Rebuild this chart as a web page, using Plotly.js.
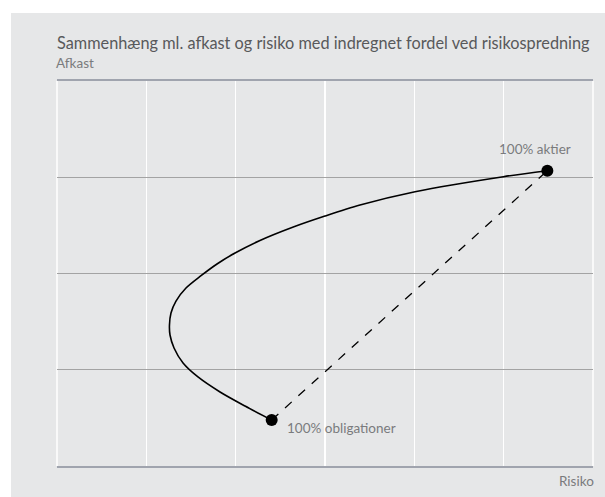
<!DOCTYPE html>
<html>
<head>
<meta charset="utf-8">
<script src="https://cdn.plot.ly/plotly-3.0.1.min.js"></script>
<style>
  html, body { margin: 0; padding: 0; background: #ffffff; width: 605px; height: 497px; overflow: hidden; }
  #chart { position: absolute; left: 11px; top: 13px; width: 594px; height: 484px; }
</style>
</head>
<body>
<div id="chart"></div>
<script>
// Frontier curve (risk, return)
const frontierRisk   = [2.403, 2.105, 1.825, 1.578, 1.411, 1.310, 1.265, 1.259, 1.276, 1.332, 1.444, 1.601, 1.791, 1.993, 2.272, 2.645, 3.000, 3.392, 4.008, 4.996, 5.489];
const frontierReturn = [0.478, 0.623, 0.769, 0.925, 1.070, 1.226, 1.361, 1.465, 1.590, 1.714, 1.849, 1.969, 2.099, 2.213, 2.343, 2.483, 2.597, 2.712, 2.850, 3.006, 3.068];
// Endpoints: 100% obligationer, 100% aktier
const endLabels = ["100% obligationer", "100% aktier"];
const endRisk   = [2.403, 5.489];
const endReturn = [0.478, 3.068];

const titleText = "Sammenhæng ml. afkast og risiko med indregnet fordel ved risikospredning";
const yLabel = "Afkast";
const xLabel = "Risiko";

const FONT = "Lato, 'Liberation Sans', Arial, sans-serif";
const LABEL_SIZE = 13.5;

const traces = [
  {
    x: endRisk, y: endReturn, type: "scatter", mode: "lines",
    line: { color: "#000000", width: 1.3, dash: "dash" },
    hoverinfo: "skip"
  },
  {
    x: frontierRisk, y: frontierReturn, type: "scatter", mode: "lines",
    line: { color: "#000000", width: 1.6, shape: "spline", smoothing: 0.8 },
    hoverinfo: "skip"
  },
  {
    x: endRisk, y: endReturn, type: "scatter", mode: "markers",
    marker: { color: "#000000", size: 12 },
    hoverinfo: "skip"
  }
];

const layout = {
  width: 594, height: 484,
  margin: { l: 46, r: 12, t: 68, b: 31 },
  paper_bgcolor: "#e6e7e8",
  plot_bgcolor: "#e6e7e8",
  showlegend: false,
  font: { family: FONT, color: "#58595b" },
  title: {
    text: titleText,
    font: { family: FONT, size: 16.3, color: "#58595b" },
    xref: "paper", x: 0, xanchor: "left",
    yref: "container", y: 0.938, yanchor: "middle"
  },
  xaxis: {
    range: [0, 6], dtick: 1, tick0: 0,
    showgrid: true, gridcolor: "#ffffff", gridwidth: 1.5,
    zeroline: false, showticklabels: false, ticks: "",
    showline: true, linecolor: "#a0a4ae", linewidth: 2, mirror: true,
    fixedrange: true
  },
  yaxis: {
    range: [0, 4], dtick: 1, tick0: 0,
    showgrid: true, gridcolor: "#a3a3a3", gridwidth: 1,
    zeroline: false, showticklabels: false, ticks: "",
    showline: false,
    fixedrange: true
  },
  shapes: [
    { type: "line", xref: "paper", yref: "paper", x0: 0, x1: 0, y0: 0, y1: 1,
      line: { color: "#ffffff", width: 1.5 }, layer: "below" },
    { type: "line", xref: "paper", yref: "paper", x0: 1, x1: 1, y0: 0, y1: 1,
      line: { color: "#ffffff", width: 1.5 }, layer: "below" }
  ],
  annotations: [
    {
      text: yLabel, xref: "paper", yref: "paper", x: 0, y: 1,
      xanchor: "left", yanchor: "middle", xshift: -3, yshift: 18, showarrow: false,
      font: { family: FONT, size: LABEL_SIZE, color: "#7a7b7d" }
    },
    {
      text: xLabel, xref: "paper", yref: "paper", x: 1, y: 0,
      xanchor: "right", yanchor: "middle", xshift: 3, yshift: -15, showarrow: false,
      font: { family: FONT, size: LABEL_SIZE, color: "#7a7b7d" }
    },
    {
      text: endLabels[0], xref: "x", yref: "y", x: endRisk[0], y: endReturn[0],
      xanchor: "left", yanchor: "middle", xshift: 13, yshift: -8, showarrow: false,
      font: { family: FONT, size: LABEL_SIZE, color: "#7a7b7d" }
    },
    {
      text: endLabels[1], xref: "x", yref: "y", x: endRisk[1], y: endReturn[1],
      xanchor: "center", yanchor: "middle", xshift: -12, yshift: 22, showarrow: false,
      font: { family: FONT, size: LABEL_SIZE, color: "#7a7b7d" }
    }
  ]
};

Plotly.newPlot("chart", traces, layout, { staticPlot: true, displayModeBar: false });
</script>
</body>
</html>
